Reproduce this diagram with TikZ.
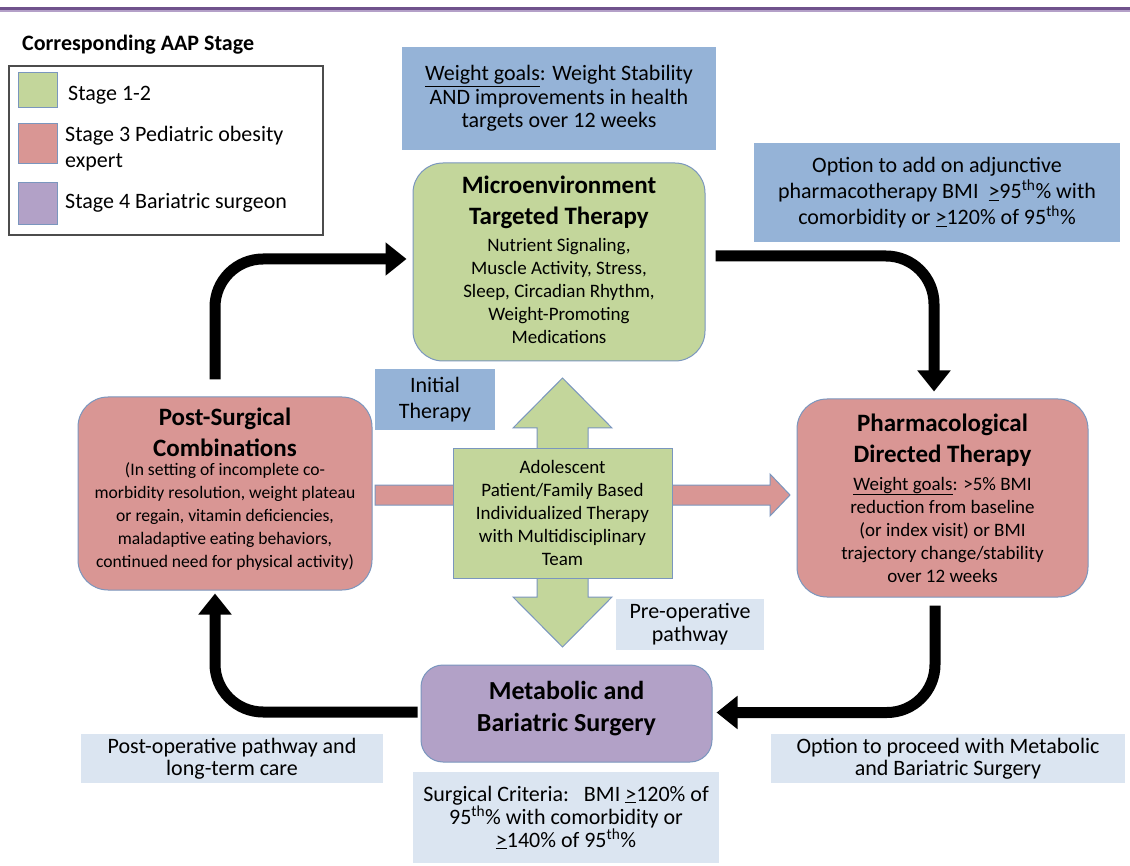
\documentclass[tikz,border=0pt]{standalone}
\usepackage{fontspec}
\setmainfont{Carlito}
\usetikzlibrary{arrows.meta,calc}
\definecolor{bluebox}{RGB}{149,179,215}
\definecolor{greenbox}{RGB}{195,214,155}
\definecolor{redbox}{RGB}{217,150,148}
\definecolor{purplebox}{RGB}{178,161,199}
\definecolor{lightbox}{RGB}{219,229,241}
\definecolor{edge}{RGB}{122,150,190}
\definecolor{topline}{RGB}{112,82,140}
\definecolor{toplight}{RGB}{180,160,200}
\begin{document}
\begin{tikzpicture}[x=1pt,y=-1pt,
  rbox/.style={draw=edge, line width=1pt, rounded corners=30pt, inner sep=0pt},
  flatbox/.style={inner sep=0pt, align=center},
  labelf/.style={font=\fontsize{22}{26}\selectfont},
  bodyf/.style={font=\fontsize{19}{23}\selectfont},
  titlef/.style={font=\fontsize{25}{31}\selectfont\bfseries},
  txt/.style={align=center, inner sep=0pt},
  swatch/.style={draw=edge, line width=1pt, minimum width=39pt, inner sep=0pt},
  legtext/.style={font=\fontsize{22}{26}\selectfont, align=left, inner sep=0pt, anchor=west},
  bigarrow/.style={line width=11pt, -{Triangle[width=32pt,length=21pt]}},
  blockshape/.style={draw=edge, line width=1pt, line join=miter}
]
\fill[white] (0,0) rectangle (1130,866);
\useasboundingbox (0,0) rectangle (1130,866);
% top rule
\draw[topline, line width=3pt] (0,9) -- (1130,9);
\draw[toplight, line width=1.5pt] (0,11.2) -- (1130,11.2);

% legend
\node[font=\fontsize{22}{26}\selectfont\bfseries, anchor=west, inner sep=0pt] (legtitle) at (22,45) {Corresponding AAP Stage};
\node[draw=black!70, line width=1.2pt, minimum width=314pt, minimum height=169pt, inner sep=0pt] (legend) at (166,150.5) {};
\node[swatch, fill=greenbox, minimum height=35pt] (sw1) at (37.5,90.5) {};
\node[swatch, fill=redbox, minimum height=40pt] (sw2) at (37.5,144) {};
\node[swatch, fill=purplebox, minimum height=42pt] (sw3) at (37.5,204) {};
\node[legtext] (lt1) at (68,95) {Stage 1-2};
\node[legtext] (lt2) at (65,149) {Stage 3 Pediatric obesity\\expert};
\node[legtext] (lt3) at (65,203) {Stage 4 Bariatric surgeon};

% top label boxes
\node[flatbox, fill=bluebox, minimum width=314pt, minimum height=103pt, font=\fontsize{22}{23.5}\selectfont] (goals) at (559,98.5)
  {\underline{Weight goals}: Weight Stability\\AND improvements in health\\targets over 12 weeks};
\node[flatbox, fill=bluebox, minimum width=366pt, minimum height=99pt, labelf] (optadd) at (937,192.5)
  {Option to add on adjunctive\\pharmacotherapy BMI\ \ \underline{>}95\textsuperscript{th}\% with\\comorbidity or \underline{>}120\% of 95\textsuperscript{th}\%};

% main rounded boxes
\node[rbox, fill=greenbox, minimum width=292pt, minimum height=198pt] (micro) at (559,262) {};
\node[txt, titlef] (microT) at (559,202) {Microenvironment\\Targeted Therapy};
\node[txt, bodyf] (microB) at (559,291) {Nutrient Signaling,\\Muscle Activity, Stress,\\Sleep, Circadian Rhythm,\\Weight-Promoting\\Medications};

\node[rbox, fill=redbox, minimum width=291pt, minimum height=198pt] (pharm) at (942.5,498) {};
\node[txt, titlef] (pharmT) at (942.5,440) {Pharmacological\\Directed Therapy};
\node[txt, bodyf] (pharmB) at (942.5,529.5) {\underline{Weight goals}: >5\% BMI\\reduction from baseline\\(or index visit) or BMI\\trajectory change/stability\\over 12 weeks};

\node[rbox, fill=redbox, minimum width=294pt, minimum height=193pt] (post) at (225,493.5) {};
\node[txt, titlef] (postT) at (225,432) {Post-Surgical\\Combinations};
\node[txt, font=\fontsize{17.6}{23}\selectfont] (postB) at (225,516) {(In setting of incomplete co-\\morbidity resolution, weight plateau\\or regain, vitamin deficiencies,\\maladaptive eating behaviors,\\continued need for physical activity)};

\node[rbox, fill=purplebox, rounded corners=22pt, minimum width=291pt, minimum height=97pt] (meta) at (566.5,713.5) {};
\node[txt, font=\fontsize{26}{32}\selectfont\bfseries] (metaT) at (566.5,709) {Metabolic and\\Bariatric Surgery};

% central block arrows
\draw[blockshape, fill=redbox] (375,485) -- (770,485) -- (770,474) -- (790,495) -- (770,516) -- (770,505) -- (375,505) -- cycle;
\draw[blockshape, fill=greenbox] (562.5,378) -- (612,428) -- (588,428) -- (588,597) -- (612,597) -- (562.5,647) -- (513,597) -- (537,597) -- (537,428) -- (513,428) -- cycle;
\node[draw=edge, line width=1pt, fill=greenbox, minimum width=219pt, minimum height=130pt, txt, bodyf] (center) at (562.5,513)
  {Adolescent\\Patient/Family Based\\Individualized Therapy\\with Multidisciplinary\\Team};

\node[flatbox, fill=bluebox, minimum width=120pt, minimum height=61pt, labelf] (initial) at (435,399.5) {Initial\\Therapy};
\node[flatbox, fill=lightbox, minimum width=148pt, minimum height=51pt, font=\fontsize{22}{23}\selectfont] (preop) at (690,624.5) {Pre-operative\\pathway};

% bottom label boxes
\node[flatbox, fill=lightbox, minimum width=306pt, minimum height=91pt, font=\fontsize{22}{23}\selectfont] (crit) at (566,817.5)
  {Surgical Criteria:\ \ \ BMI \underline{>}120\% of\\95\textsuperscript{th}\% with comorbidity or\\\underline{>}140\% of 95\textsuperscript{th}\%};
\node[flatbox, fill=lightbox, minimum width=302pt, minimum height=49pt, font=\fontsize{22}{22}\selectfont] (postop) at (232,758.5)
  {Post-operative pathway and\\long-term care};
\node[flatbox, fill=lightbox, minimum width=354pt, minimum height=49pt, font=\fontsize{22}{22}\selectfont] (optproc) at (948,758.5)
  {Option to proceed with Metabolic\\and Bariatric Surgery};

% cycle arrows
\draw[bigarrow] ($(post.north)+(-10,-17)$) [rounded corners=48pt] |- ($(micro.west)+(-6,-3)$);
\draw[bigarrow] ($(micro.east)+(10,-6)$) [rounded corners=48pt] -| ($(pharm.north)+(-8.5,-7)$);
\draw[bigarrow] ($(pharm.south)+(-7.5,8)$) [rounded corners=48pt] |- ($(meta.east)+(4,-1)$);
\draw[bigarrow] ($(meta.west)+(-3,-1.5)$) [rounded corners=48pt] -| ($(post.south)+(-10,3)$);
\end{tikzpicture}
\end{document}
